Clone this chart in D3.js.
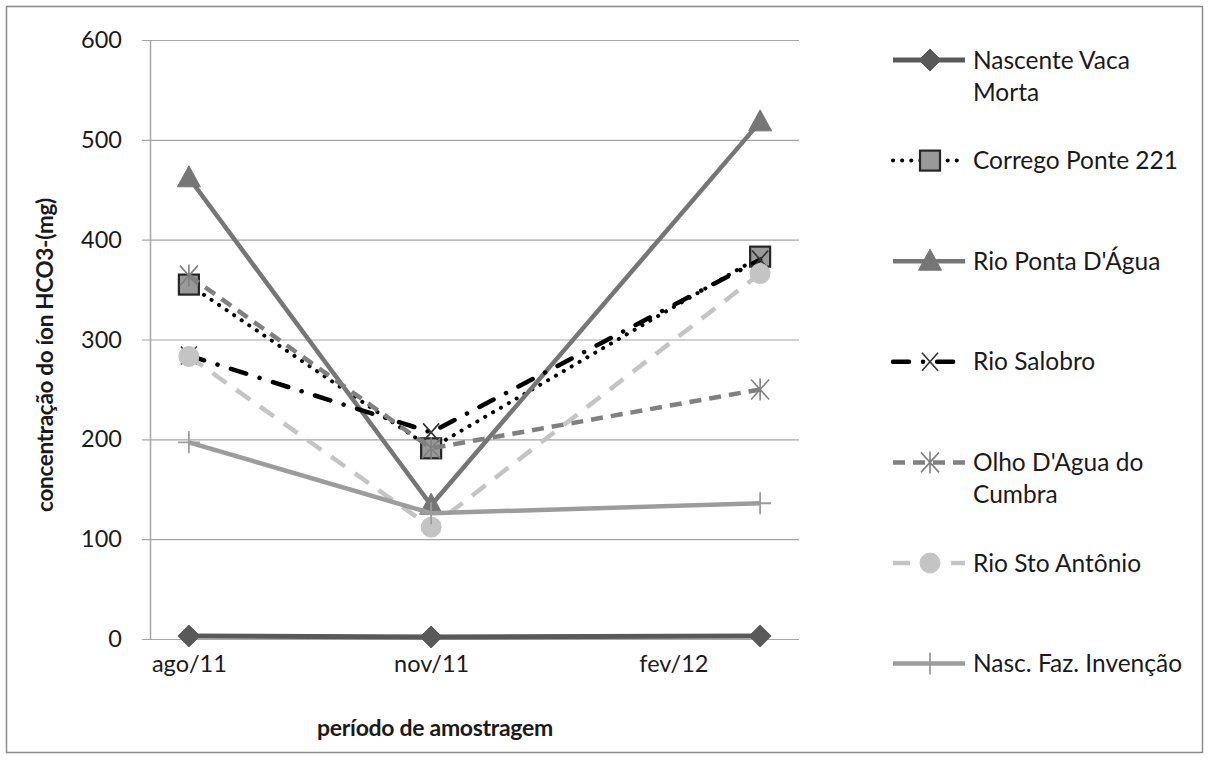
<!DOCTYPE html>
<html>
<head>
<meta charset="utf-8">
<script src="https://cdn.jsdelivr.net/npm/d3@7"></script>
<style>
  body { margin: 0; background: #fff; }
  text { font-family: Lato, "Open Sans", sans-serif; fill: #1a1a1a; }
</style>
</head>
<body>
<svg id="chart" width="1208" height="760"></svg>
<script>
// sampling periods (labels) and the approximate sampling dates read from the point spacing
const categories = ['ago/11', 'nov/11', 'fev/12'];
const sampleDates = ['2011-08-20', '2011-11-09', '2012-02-27'];

const seriesNames = [
  'Nascente Vaca Morta',
  'Corrego Ponte 221',
  "Rio Ponta D'Água",
  'Rio Salobro',
  "Olho D'Agua do Cumbra",
  'Rio Sto Antônio',
  'Nasc. Faz. Invenção'
];
const nascenteVacaMorta = [3, 2, 3];
const corregoPonte221 = [355, 191, 383];
const rioPontaDagua = [462, 134, 518];
const rioSalobro = [284, 207, 380];
const olhoDaguaCumbra = [364, 191, 250];
const rioStoAntonio = [283, 112, 366];
const nascFazInvencao = [197, 126, 136];

const yTicks = [0, 100, 200, 300, 400, 500, 600];

// legend wraps these two names like the original
const legendLines = {
  'Nascente Vaca Morta': ['Nascente Vaca', 'Morta'],
  "Olho D'Agua do Cumbra": ["Olho D'Agua do", 'Cumbra']
};

const values = [nascenteVacaMorta, corregoPonte221, rioPontaDagua, rioSalobro,
  olhoDaguaCumbra, rioStoAntonio, nascFazInvencao];

const styles = [
  { color: '#595959', width: 5, dash: null, cap: 'butt', marker: 'diamond', mfill: '#595959', mstroke: '#595959' },
  { color: '#000000', width: 4, dash: '0.1,9', cap: 'round', marker: 'square', mfill: '#999999', mstroke: '#262626' },
  { color: '#767676', width: 4.5, dash: null, cap: 'butt', marker: 'triangle', mfill: '#767676', mstroke: '#767676' },
  { color: '#000000', width: 4.5, dash: '16,14,0.1,14', cap: 'round', marker: 'x', mfill: 'none', mstroke: '#333333' },
  { color: '#808080', width: 4.5, dash: '12,8', cap: 'butt', marker: 'asterisk', mfill: 'none', mstroke: '#808080' },
  { color: '#c4c4c4', width: 4.5, dash: '17,12', cap: 'butt', marker: 'circle', mfill: '#c4c4c4', mstroke: '#c4c4c4' },
  { color: '#9c9c9c', width: 4.5, dash: null, cap: 'butt', marker: 'plus', mfill: 'none', mstroke: '#9c9c9c' }
];

const svg = d3.select('#chart');

svg.append('rect')
  .attr('x', 6.5).attr('y', 6.5)
  .attr('width', 1196).attr('height', 746)
  .attr('fill', '#fff')
  .attr('stroke', '#8a8a8a')
  .attr('stroke-width', 1.5);

const plot = { left: 150, right: 799, top: 40, bottom: 639 };

const parse = d3.utcParse('%Y-%m-%d');
const dates = sampleDates.map(parse);
const x = d3.scaleUtc()
  .domain([d3.utcDay.offset(dates[0], -13), d3.utcDay.offset(dates[2], 13)])
  .range([plot.left, plot.right]);

// the category labels sit on an evenly spaced scale of their own
const labelStep = x(dates[1]) - x(dates[0]);
const xLabel = d3.scalePoint()
  .domain(categories)
  .range([x(dates[0]), x(dates[0]) + 2 * labelStep]);

const y = d3.scaleLinear()
  .domain([0, 600])
  .range([plot.bottom, plot.top]);

// gridlines + y axis
const yAxis = d3.axisLeft(y)
  .tickValues(yTicks)
  .tickSize(-(plot.right - plot.left))
  .tickSizeOuter(0)
  .tickFormat(d3.format('d'));

const gy = svg.append('g')
  .attr('transform', `translate(${plot.left},0)`)
  .call(yAxis);
gy.select('.domain').attr('stroke', '#a6a6a6').attr('stroke-width', 1.5);
gy.selectAll('.tick line')
  .attr('x1', -8)
  .attr('stroke', '#a6a6a6')
  .attr('stroke-width', 1.2);
gy.selectAll('.tick text')
  .attr('x', -28)
  .style('font-size', '23.5px')
  .attr('fill', '#1a1a1a');

// category labels
const gx = svg.append('g')
  .attr('transform', `translate(0,${plot.bottom})`)
  .call(d3.axisBottom(xLabel)
    .tickSize(0)
    .tickSizeOuter(0)
    .tickPadding(16));
gx.select('.domain').remove();
gx.selectAll('.tick text')
  .style('font-size', '23.5px')
  .attr('fill', '#1a1a1a');

// axis titles
svg.append('text')
  .attr('x', 435).attr('y', 736)
  .attr('text-anchor', 'middle')
  .style('font-size', '23px')
  .style('font-weight', 'bold')
  .style('letter-spacing', '-0.3px')
  .text('período de amostragem');

svg.append('text')
  .attr('transform', 'translate(53,355) rotate(-90)')
  .attr('text-anchor', 'middle')
  .style('font-size', '22.5px')
  .style('font-weight', 'bold')
  .style('letter-spacing', '-0.3px')
  .text('concentração do íon HCO3-(mg)');

function drawMarker(g, type, s, cx, cy) {
  const m = g.append('g').attr('transform', `translate(${cx},${cy})`);
  if (type === 'diamond') {
    m.append('path').attr('d', 'M0,-11L11,0L0,11L-11,0Z')
      .attr('fill', s.mfill).attr('stroke', s.mstroke);
  } else if (type === 'square') {
    m.append('rect').attr('x', -10).attr('y', -10).attr('width', 20).attr('height', 20)
      .attr('fill', s.mfill).attr('stroke', s.mstroke).attr('stroke-width', 2.2);
  } else if (type === 'triangle') {
    m.append('path').attr('d', 'M0,-12L11.5,9L-11.5,9Z')
      .attr('fill', s.mfill).attr('stroke', s.mstroke);
  } else if (type === 'circle') {
    m.append('circle').attr('r', 10).attr('fill', s.mfill).attr('stroke', s.mstroke);
  } else if (type === 'x') {
    m.append('path').attr('d', 'M-8,-9L8,9M8,-9L-8,9')
      .attr('fill', 'none').attr('stroke', s.mstroke).attr('stroke-width', 1.6);
  } else if (type === 'asterisk') {
    m.append('path').attr('d', 'M-9,-10L9,10M9,-10L-9,10M0,-11L0,11')
      .attr('fill', 'none').attr('stroke', s.mstroke).attr('stroke-width', 1.6);
  } else if (type === 'plus') {
    m.append('path').attr('d', 'M-11,0L11,0M0,-11L0,11')
      .attr('fill', 'none').attr('stroke', s.mstroke).attr('stroke-width', 1.8);
  }
}

const line = d3.line()
  .x((d, i) => x(dates[i]))
  .y(d => y(d));

values.forEach((vals, k) => {
  const s = styles[k];
  const g = svg.append('g');
  g.append('path')
    .datum(vals)
    .attr('d', line)
    .attr('fill', 'none')
    .attr('stroke', s.color)
    .attr('stroke-width', s.width)
    .attr('stroke-linecap', s.cap)
    .attr('stroke-linejoin', 'round')
    .attr('stroke-dasharray', s.dash);
  vals.forEach((v, i) => drawMarker(g, s.marker, s, x(dates[i]), y(v)));
});

// legend
const legend = svg.append('g').attr('transform', 'translate(893,0)');
seriesNames.forEach((name, k) => {
  const s = styles[k];
  const cy = 60 + k * 100.6;
  const g = legend.append('g');
  g.append('line')
    .attr('x1', 0).attr('x2', 72)
    .attr('y1', cy).attr('y2', cy)
    .attr('stroke', s.color)
    .attr('stroke-width', s.width)
    .attr('stroke-linecap', s.cap)
    .attr('stroke-dasharray', s.dash);
  drawMarker(g, s.marker, s, 37, cy);
  const lines = legendLines[name] || [name];
  const t = g.append('text')
    .attr('x', 80).attr('y', cy + 8.5)
    .style('font-size', '24.5px');
  lines.forEach((ln, i) => {
    t.append('tspan').attr('x', 80).attr('dy', i === 0 ? 0 : 32).text(ln);
  });
});
</script>
</body>
</html>
